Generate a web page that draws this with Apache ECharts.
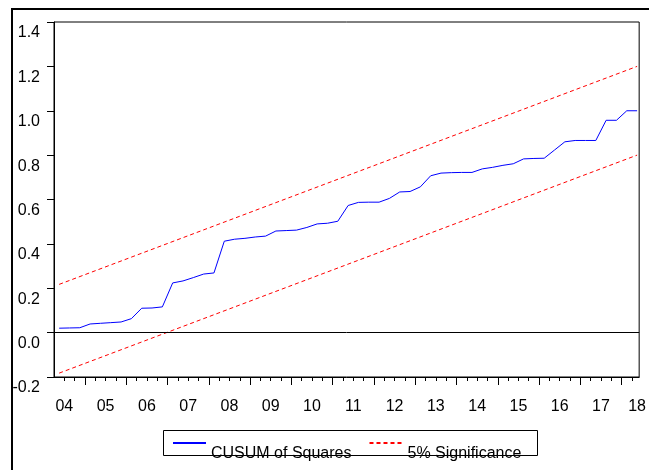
<!DOCTYPE html>
<html>
<head>
<meta charset="utf-8">
<script src="https://cdn.jsdelivr.net/npm/echarts@6/dist/echarts.min.js"></script>
<style>
  html, body { margin: 0; padding: 0; background: #fff; }
  #main { width: 649px; height: 470px; }
</style>
</head>
<body>
<div id="main"></div>
<script>
// quarterly observations, 2004Q2 .. 2018Q2 (index 0..56)
var cusumSq = [
  0.020, 0.021, 0.022, 0.039, 0.042, 0.045, 0.048, 0.063, 0.110, 0.111,
  0.116, 0.224, 0.233, 0.248, 0.264, 0.269, 0.412, 0.421, 0.425, 0.431,
  0.435, 0.458, 0.460, 0.462, 0.474, 0.490, 0.493, 0.502, 0.573, 0.587,
  0.588, 0.588, 0.605, 0.634, 0.636, 0.657, 0.707, 0.719, 0.721, 0.722,
  0.722, 0.738, 0.745, 0.754, 0.761, 0.783, 0.785, 0.786, 0.823, 0.860,
  0.866, 0.866, 0.866, 0.957, 0.957, 1.000, 1.000
];
// 5% significance bounds (straight lines, start and end points)
var upperBound = [[0, 0.2175], [56, 1.2]];
var lowerBound = [[0, -0.1825], [56, 0.8]];

// x axis: year labels and where they sit (observation index units)
var yearLabels = ['04','05','06','07','08','09','10','11','12','13','14','15','16','17','18'];
var yearLabelPos = [0.5, 4.5, 8.5, 12.5, 16.5, 20.5, 24.5, 28.5, 32.5, 36.5, 40.5, 44.5, 48.5, 52.5, 56];
var yearTicks = [2.5, 6.5, 10.5, 14.5, 18.5, 22.5, 26.5, 30.5, 34.5, 38.5, 42.5, 46.5, 50.5, 54.5];
var quarterTicks = [];
for (var k = 0; k < 57; k++) {
  var t = k - 0.5;
  if (yearTicks.indexOf(t) < 0 && t > -0.5) quarterTicks.push(t);
}

var font = 'Liberation Sans, Arial, sans-serif';
var myChart = echarts.init(document.getElementById('main'));

var option = {
  animation: false,
  backgroundColor: '#fff',
  grid: {
    left: 54, right: 8, top: 22, bottom: 93,
    show: true, borderColor: '#000', borderWidth: 1
  },
  legend: {
    data: ['CUSUM of Squares', '5% Significance'],
    left: 172, top: 421,
    padding: 0,
    itemWidth: 33, itemHeight: 14, itemGap: 17,
    itemStyle: { opacity: 0, color: 'rgba(0,0,0,0)', borderWidth: 0 },
    formatter: function (name) { return '\n' + name; },
    textStyle: { fontFamily: font, fontSize: 16, color: '#000', lineHeight: 22 }
  },
  graphic: [
    {
      type: 'rect', silent: true,
      shape: { x: 12, y: 9, width: 700, height: 500 },
      style: { fill: 'none', stroke: '#000', lineWidth: 2 }
    },
    {
      type: 'rect', silent: true,
      shape: { x: 163.5, y: 430.5, width: 374, height: 25 },
      style: { fill: 'none', stroke: '#000', lineWidth: 1 }
    }
  ],
  xAxis: [
    {
      type: 'value', min: -0.5, max: 56.2, position: 'bottom',
      axisLine: { show: true, onZero: false, lineStyle: { color: '#000', width: 1 } },
      axisTick: { show: true, customValues: yearTicks, length: 8, lineStyle: { color: '#000' } },
      axisLabel: {
        customValues: yearLabelPos,
        margin: 22,
        fontFamily: font, fontSize: 16, color: '#000',
        formatter: function (v) {
          var i = yearLabelPos.indexOf(v);
          return i >= 0 ? yearLabels[i] : '';
        }
      },
      splitLine: { show: false }
    },
    {
      type: 'value', min: -0.5, max: 56.2, position: 'bottom',
      axisLine: { show: false, onZero: false },
      axisTick: { show: true, customValues: quarterTicks, length: 4, lineStyle: { color: '#000' } },
      axisLabel: { show: false },
      splitLine: { show: false }
    }
  ],
  yAxis: {
    type: 'value', min: -0.2, max: 1.4, interval: 0.2,
    axisLine: { show: true, onZero: false, lineStyle: { color: '#000', width: 1 } },
    axisTick: { show: true, length: 7, lineStyle: { color: '#000' } },
    axisLabel: {
      margin: 14,
      fontFamily: font, fontSize: 16, color: '#000',
      verticalAlign: 'top', lineHeight: 22,
      formatter: function (v) { return v.toFixed(1); }
    },
    splitLine: { show: false }
  },
  series: [
    {
      name: 'CUSUM of Squares',
      type: 'line',
      xAxisIndex: 0,
      symbol: 'none',
      lineStyle: { color: '#0000ff', width: 1 },
      itemStyle: { color: '#0000ff' },
      data: cusumSq.map(function (v, i) { return [i, v]; }),
      markLine: {
        silent: true, symbol: 'none', label: { show: false },
        lineStyle: { color: '#000', width: 1, type: 'solid' },
        data: [{ yAxis: 0 }]
      }
    },
    {
      name: '5% Significance',
      type: 'line',
      xAxisIndex: 0,
      symbol: 'none',
      lineStyle: { color: '#ff0000', width: 1, type: [4, 3] },
      itemStyle: { color: '#ff0000' },
      data: upperBound
    },
    {
      name: '5% Significance',
      type: 'line',
      xAxisIndex: 0,
      symbol: 'none',
      lineStyle: { color: '#ff0000', width: 1, type: [4, 3] },
      itemStyle: { color: '#ff0000' },
      data: lowerBound
    }
  ]
};
myChart.setOption(option);
</script>
</body>
</html>
